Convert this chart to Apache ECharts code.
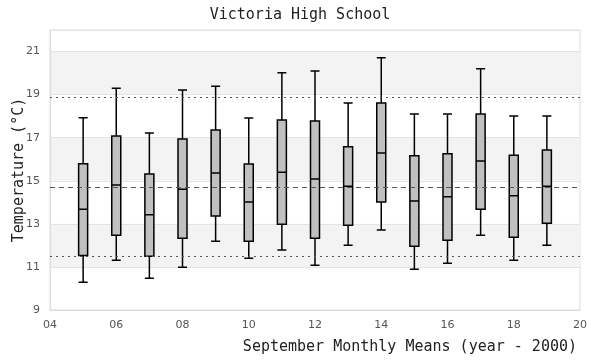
<!DOCTYPE html>
<html>
<head>
<meta charset="utf-8">
<script src="https://cdn.jsdelivr.net/npm/echarts@6/dist/echarts.min.js"></script>
<style>html,body{margin:0;padding:0;background:#fff}#c{width:600px;height:360px}</style>
</head>
<body>
<div id="c"></div>
<script>
const years = [5, 6, 7, 8, 9, 10, 11, 12, 13, 14, 15, 16, 17, 18, 19];
const mins    = [10.29, 11.31, 10.47, 10.99, 12.19, 11.40, 11.78, 11.08, 12.01, 12.71, 10.89, 11.17, 12.47, 11.31, 12.01];
const q1s     = [11.53, 12.47, 11.50, 12.33, 13.36, 12.19, 12.98, 12.33, 12.94, 14.01, 11.96, 12.24, 13.68, 12.38, 13.03];
const medians = [13.68, 14.80, 13.42, 14.61, 15.36, 14.01, 15.40, 15.08, 14.75, 16.29, 14.06, 14.26, 15.92, 14.30, 14.75];
const q3s     = [15.79, 17.08, 15.31, 16.94, 17.36, 15.78, 17.82, 17.78, 16.58, 18.61, 16.16, 16.26, 18.10, 16.19, 16.43];
const maxs    = [17.93, 19.29, 17.22, 19.22, 19.39, 17.92, 20.01, 20.10, 18.61, 20.71, 18.10, 18.10, 20.20, 18.01, 18.01];
const meanLine = 14.72;
const upperLine = 18.89;
const lowerLine = 11.50;

const boxData = years.map((y, i) => [y, mins[i], q1s[i], medians[i], q3s[i], maxs[i]]);
const mono = '"DejaVu Sans Mono", "Liberation Mono", monospace';

const chart = echarts.init(document.getElementById('c'), null, {renderer: 'canvas'});
chart.setOption({
  animation: false,
  title: {
    text: 'Victoria High School',
    left: 'center', top: 3,
    textStyle: {fontFamily: mono, fontSize: 15, fontWeight: 'normal', color: '#222'}
  },
  grid: {left: 50, right: 20, top: 30, bottom: 50, show: true, borderColor: '#ddd', borderWidth: 1,
         containLabel: false, outerBoundsMode: 'none'},
  xAxis: {
    type: 'value', min: 4, max: 20, interval: 2,
    name: 'September Monthly Means (year - 2000)',
    nameLocation: 'end', nameGap: -3, nameMoveOverlap: false,
    nameTextStyle: {fontFamily: mono, fontSize: 15, color: '#222', align: 'right', verticalAlign: 'top', padding: [30, 0, 0, 0]},
    axisLine: {lineStyle: {color: '#ddd'}},
    axisTick: {show: false},
    splitLine: {show: false},
    axisLabel: {color: '#555', fontSize: 11, fontFamily: 'DejaVu Sans', margin: 10,
      formatter: v => (v < 10 ? '0' : '') + v}
  },
  yAxis: {
    type: 'value', min: 9, max: 22, interval: 2,
    name: 'Temperature (°C)',
    nameLocation: 'middle', nameGap: 23, nameMoveOverlap: false,
    nameTextStyle: {fontFamily: mono, fontSize: 15, color: '#222'},
    axisLine: {show: true, lineStyle: {color: '#ddd'}},
    axisTick: {show: false},
    axisLabel: {color: '#555', fontSize: 11, fontFamily: 'DejaVu Sans', margin: 10,
      formatter: v => (v === 22 ? '' : v)},
    splitLine: {show: true, lineStyle: {color: '#e3e3e3'}},
    splitArea: {show: true, areaStyle: {color: ['rgba(255,255,255,0)', '#f3f3f3']}}
  },
  series: [{
    type: 'boxplot',
    data: boxData,
    boxWidth: [9, 9],
    itemStyle: {color: '#c0c0c0', borderColor: '#000', borderWidth: 1.5},
    markLine: {
      silent: true, symbol: 'none',
      label: {show: false},
      data: [
        {yAxis: meanLine, lineStyle: {type: [5, 4], color: '#555', width: 1}},
        {yAxis: upperLine, lineStyle: {type: [2, 4], color: '#555', width: 1}},
        {yAxis: lowerLine, lineStyle: {type: [2, 4], color: '#555', width: 1}}
      ]
    }
  }]
});
</script>
</body>
</html>
